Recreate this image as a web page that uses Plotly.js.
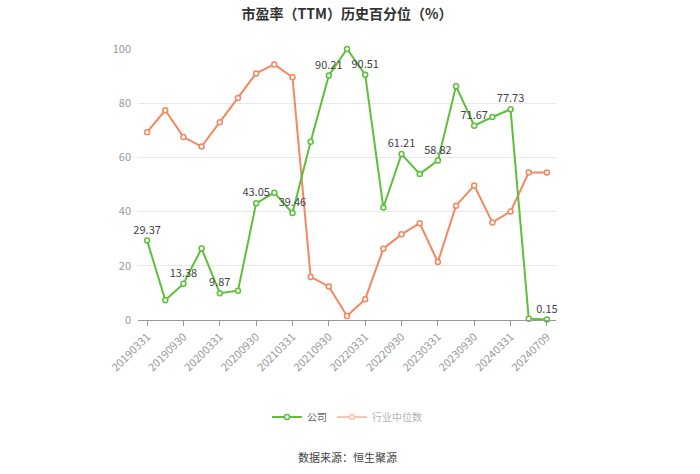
<!DOCTYPE html>
<html>
<head>
<meta charset="utf-8">
<script src="https://cdn.plot.ly/plotly-3.0.1.min.js"></script>
<style>html,body{margin:0;padding:0;background:#fff;}#chart{width:700px;height:474px;}</style>
</head>
<body>
<div id="chart"></div>
<script>
const dates = ["20190331","20190630","20190930","20191231","20200331","20200630","20200930","20201231","20210331","20210630","20210930","20211231","20220331","20220630","20220930","20221231","20230331","20230630","20230930","20231231","20240331","20240630","20240709"];
const company = [29.37,7.3,13.38,26.4,9.87,10.8,43.05,47.0,39.46,65.8,90.21,100,90.51,41.5,61.21,53.9,58.82,86.3,71.67,74.9,77.73,0.5,0.15];
const industry = [69.3,77.4,67.5,64.0,73.0,81.9,91.0,94.3,89.6,15.9,12.4,1.5,7.7,26.3,31.6,35.7,21.4,42.2,49.6,36.0,40.0,54.4,54.4];
const labelIdx = [0,2,4,6,8,10,12,14,16,18,20,22];
const tickDates = ["20190331","20190930","20200331","20200930","20210331","20210930","20220331","20220930","20230331","20230930","20240331","20240709"];
const seriesNames = ["公司","行业中位数"];

const green = "#5cc03a", orange = "#f4875f";
const font = "'Noto Sans CJK SC', 'Noto Sans', sans-serif";
const companyText = company.map((v,i)=> labelIdx.includes(i) ? String(v) : "");

const traces = [
  {x: dates, y: industry, type:'scatter', mode:'lines+markers', name: seriesNames[1], showlegend:false,
   line:{color:orange,width:2}, marker:{symbol:'circle',size:5,color:'#fff',line:{color:orange,width:1.5}}, cliponaxis:false},
  {x: dates, y: company, type:'scatter', mode:'lines+markers+text', name: seriesNames[0],
   text: companyText, textposition:'top center', textfont:{family:font,size:11,color:'#444'},
   line:{color:green,width:2}, marker:{symbol:'circle',size:5,color:'#fff',line:{color:green,width:1.5}}, cliponaxis:false},
  {x: [dates[0]], y: [industry[0]], type:'scatter', mode:'lines+markers', name: seriesNames[1], visible:'legendonly',
   line:{color:orange,width:2}, marker:{symbol:'circle',size:5,color:'#fff',line:{color:orange,width:1.5}}}
];

const layout = {
  width:700, height:474,
  margin:{l:138,r:144,t:49,b:154},
  paper_bgcolor:'#fff', plot_bgcolor:'#fff',
  font:{family:font,color:'#666'},
  title:{text:'<b>市盈率（TTM）历史百分位（%）</b>', font:{family:font,size:14,color:'#333'}, xref:'paper', x:0.5, xanchor:'center', yref:'container', y:0.97, yanchor:'middle'},
  xaxis:{type:'category', categoryorder:'array', categoryarray:dates, range:[-0.5,22.5],
    tickmode:'array', tickvals:tickDates, ticktext:tickDates, tickangle:-45,
    tickfont:{family:font,size:11,color:'#999'}, ticks:'outside', ticklen:5, tickcolor:'#999',
    showline:true, linecolor:'#999', linewidth:1, showgrid:false, zeroline:false, fixedrange:true},
  yaxis:{range:[0,100], dtick:20, tickfont:{family:font,size:11,color:'#999'}, showgrid:true, gridcolor:'#e8e8e8',
    showline:false, zeroline:false, ticks:'', ticklabelstandoff:6, fixedrange:true},
  legend:{orientation:'h', xref:'paper', x:0.5, xanchor:'center', yref:'container', y:0.12, yanchor:'middle',
    font:{family:font,size:10,color:'#666'}, itemwidth:30, traceorder:'normal'},
  annotations:[{text:'数据来源：恒生聚源', xref:'paper', yref:'paper', x:0.5, y:(320-457)/271, xanchor:'center', yanchor:'middle',
    showarrow:false, font:{family:font,size:11,color:'#444'}}]
};
Plotly.newPlot('chart', traces, layout, {displayModeBar:false, staticPlot:true});
</script>
</body>
</html>
